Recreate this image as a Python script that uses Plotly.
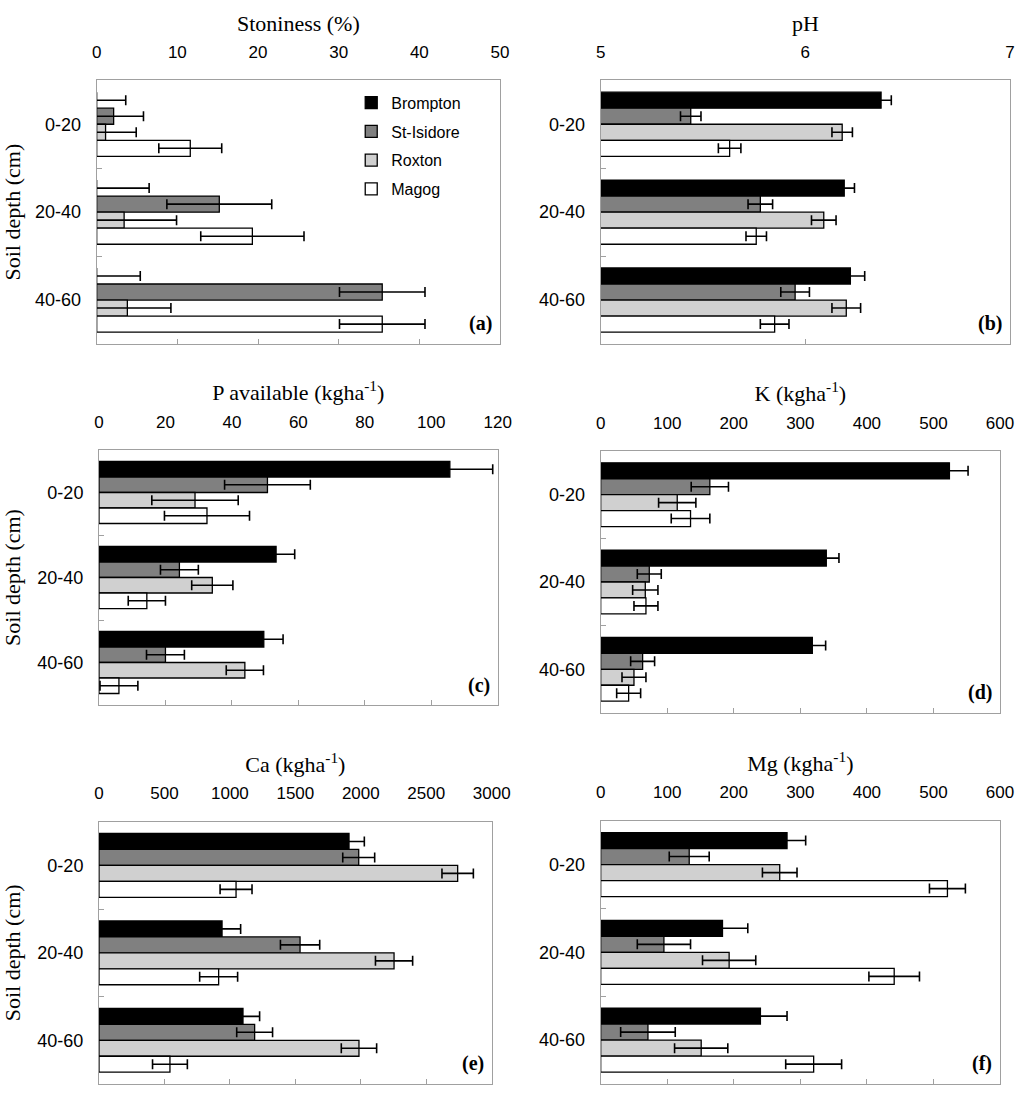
import plotly.graph_objects as go

depths = ["0-20", "20-40", "40-60"]
sites = ["Brompton", "St-Isidore", "Roxton", "Magog"]
site_colors = ["#000000", "#808080", "#d0d0d0", "#ffffff"]

# values per site (Brompton, St-Isidore, Roxton, Magog), each over depths
stoniness_mean = [[0, 0, 0], [2.1, 15.2, 35.4], [1.1, 3.4, 3.8], [11.6, 19.3, 35.4]]
stoniness_err = [[3.6, 6.5, 5.4], [3.7, 6.5, 5.3], [3.8, 6.5, 5.4], [3.9, 6.4, 5.3]]

ph_mean = [[6.37, 6.19, 6.22], [5.44, 5.78, 5.95], [6.18, 6.09, 6.20], [5.63, 5.76, 5.85]]
ph_err = [[0.05, 0.05, 0.07], [0.05, 0.06, 0.07], [0.05, 0.06, 0.07], [0.055, 0.05, 0.07]]

p_mean = [[105.6, 53.3, 49.6], [50.7, 24.2, 20.0], [28.9, 34.1, 43.9], [32.5, 14.4, 6.0]]
p_err = [[12.9, 5.6, 5.8], [12.9, 5.7, 5.7], [13.0, 6.2, 5.6], [12.8, 5.6, 5.7]]

k_mean = [[524, 339, 318], [164, 73, 63], [115, 67, 50], [135, 68, 42]]
k_err = [[28, 19, 20], [28, 18, 18], [28, 19, 18], [29, 18, 18]]

ca_mean = [[1910, 940, 1100], [1984, 1536, 1189], [2740, 2254, 1986], [1047, 914, 542]]
ca_err = [[117, 142, 127], [122, 150, 137], [120, 142, 135], [122, 145, 133]]

mg_mean = [[280, 183, 240], [133, 95, 71], [269, 193, 151], [521, 441, 320]]
mg_err = [[28, 38, 40], [30, 40, 41], [26, 40, 40], [27, 38, 42]]

titles = ["Stoniness (%)", "pH", "P available (kgha<sup>-1</sup>)",
          "K (kgha<sup>-1</sup>)", "Ca (kgha<sup>-1</sup>)", "Mg (kgha<sup>-1</sup>)"]
x_ranges = [[0, 50], [5, 7], [0, 120], [0, 600], [0, 3000], [0, 600]]
x_dticks = [10, 1, 20, 100, 500, 100]
panel_labels = ["(a)", "(b)", "(c)", "(d)", "(e)", "(f)"]

means = [stoniness_mean, ph_mean, p_mean, k_mean, ca_mean, mg_mean]
errs = [stoniness_err, ph_err, p_err, k_err, ca_err, mg_err]

W, H = 1024, 1105
# panel boxes in pixels (left, right, top, bottom)
boxes = [
    (96.7, 500, 80.3, 344),
    (600.7, 1010, 80.3, 344),
    (99, 497.7, 450, 705),
    (600.7, 1000, 451, 713),
    (99, 491.7, 821.7, 1084),
    (600.7, 1000, 820.7, 1084),
]

SERIF = "Liberation Serif"
SANS = "Liberation Sans"
BOX = "#a0a0a0"

fig = go.Figure()
layout = dict(
    width=W, height=H, autosize=False,
    margin=dict(l=0, r=0, t=0, b=0, autoexpand=False),
    paper_bgcolor="white", plot_bgcolor="white",
    barmode="group", bargap=0.27, bargroupgap=0,
    font=dict(family=SANS, color="black"),
    showlegend=True,
    legend=dict(x=0.343, y=0.9225, xanchor="left", yanchor="top",
                bgcolor="rgba(0,0,0,0)", font=dict(family=SANS, size=16, color="black"),
                tracegroupgap=5, traceorder="grouped"),
)
annotations = []

for i in range(6):
    n = i + 1
    sx = "" if n == 1 else str(n)
    xa = "x" + sx
    ya = "y" + sx
    ov = str(n + 6)
    for s in range(4):
        fig.add_trace(go.Bar(
            y=depths, x=means[i][s], orientation="h", name=sites[s],
            marker=dict(color=site_colors[s], line=dict(color="black", width=1.3)),
            error_x=dict(type="data", array=errs[i][s], symmetric=True,
                         color="black", thickness=1.6, width=5),
            xaxis=xa, yaxis=ya, legendgroup=sites[s], showlegend=(i == 0),
        ))
    # empty helper trace so the top (label) axis gets drawn
    fig.add_trace(go.Scatter(x=[], y=[], xaxis="x" + ov, yaxis=ya,
                             showlegend=False, hoverinfo="skip"))
    l, r, t, b = boxes[i]
    dom_x = [l / W, r / W]
    dom_y = [1 - b / H, 1 - t / H]
    layout["xaxis" + sx] = dict(
        domain=dom_x, anchor=ya, range=x_ranges[i], dtick=x_dticks[i],
        side="bottom", showticklabels=False, ticks="inside", ticklen=5,
        tickcolor=BOX, tickwidth=1, showline=True, mirror=True, linecolor=BOX,
        linewidth=1, showgrid=False, zeroline=False, automargin=False,
    )
    layout["xaxis" + ov] = dict(
        overlaying=xa, anchor=ya, side="top", range=x_ranges[i], dtick=x_dticks[i],
        showticklabels=True, ticks="", showline=False, showgrid=False, zeroline=False,
        ticklabelstandoff=18, tickfont=dict(family=SANS, size=17, color="black"),
        title=dict(text=titles[i], font=dict(family=SERIF, size=22, color="black"),
                   standoff=5),
        automargin=False,
    )
    yax = dict(
        domain=dom_y, anchor=xa, type="category", categoryorder="array",
        categoryarray=depths, autorange="reversed",
        ticks="inside", tickson="boundaries", ticklen=5, tickcolor=BOX,
        showline=True, mirror=True, linecolor=BOX, linewidth=1,
        showgrid=False, zeroline=False, ticklabelstandoff=11,
        tickfont=dict(family=SANS, size=18, color="black"), automargin=False,
    )
    if n % 2 == 1:
        yax["title"] = dict(text="Soil depth (cm)", font=dict(family=SERIF, size=22, color="black"),
                            standoff=10)
    layout["yaxis" + sx] = yax
    annotations.append(dict(
        text="<b>" + panel_labels[i] + "</b>", xref=xa + " domain", yref=ya + " domain",
        x=0.985, y=0.025, xanchor="right", yanchor="bottom", showarrow=False,
        font=dict(family=SERIF, size=20, color="black"),
    ))

layout["annotations"] = annotations
fig.update_layout(**layout)
fig.write_html("out.html", config={"displayModeBar": False},
               post_script="document.body.style.margin='0';")
